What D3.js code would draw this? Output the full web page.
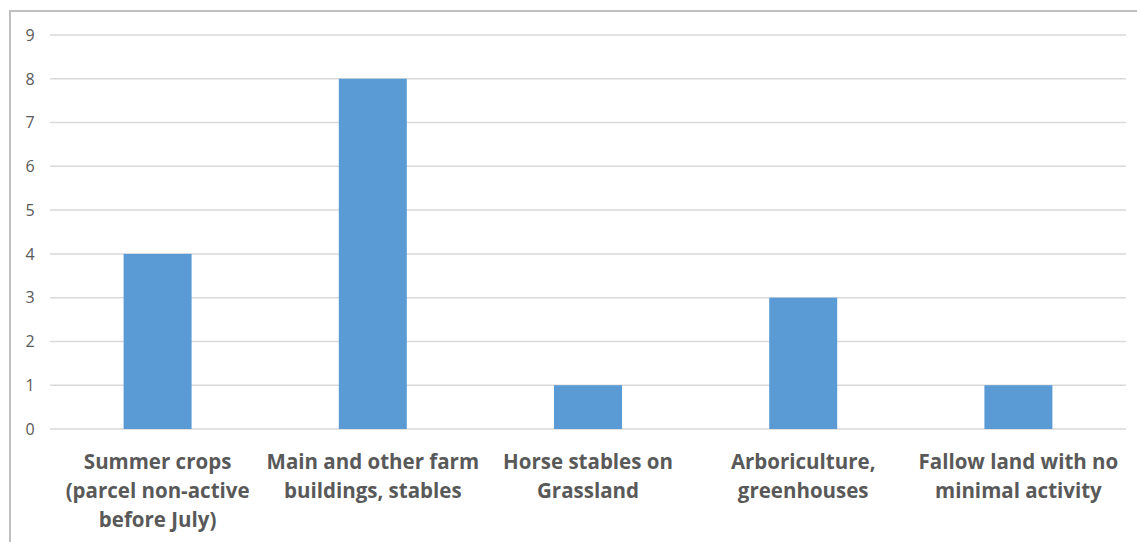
<!DOCTYPE html>
<html><head><meta charset="utf-8">
<script src="https://cdn.jsdelivr.net/npm/d3@7"></script>
<style>body{margin:0;background:#fff;}svg{display:block;}</style>
</head><body>
<svg id="c" width="1137" height="542"></svg>
<script>
const categories = [
  ["Summer crops", "(parcel non-active", "before July)"],
  ["Main and other farm", "buildings, stables"],
  ["Horse stables on", "Grassland"],
  ["Arboriculture,", "greenhouses"],
  ["Fallow land with no", "minimal activity"]
];
const values = [4, 8, 1, 3, 1];
const yTicks = [0,1,2,3,4,5,6,7,8,9];

const svg = d3.select("#c");
svg.append("rect").attr("x",10).attr("y",11).attr("width",1140).attr("height",560)
  .attr("fill","#fff").attr("stroke","#bfbfbf").attr("stroke-width",2);

const x = d3.scaleBand().domain(d3.range(categories.length)).range([50,1126])
  .paddingInner(0.684).paddingOuter(0.342);
const y = d3.scaleLinear().domain([0,9]).range([429,35]);

svg.append("g").selectAll("line").data(yTicks).join("line")
  .attr("x1",50).attr("x2",1126).attr("y1",d=>y(d)).attr("y2",d=>y(d))
  .attr("stroke","#d9d9d9").attr("stroke-width",1.5);

svg.append("g").selectAll("text").data(yTicks).join("text")
  .attr("x",30).attr("y",d=>y(d)).attr("dy","0.36em").attr("text-anchor","middle")
  .attr("font-family","'Open Sans', sans-serif").attr("font-size",16).attr("fill","#595959")
  .text(d=>d);

svg.append("g").selectAll("rect").data(values).join("rect")
  .attr("x",(d,i)=>x(i)).attr("width",x.bandwidth())
  .attr("y",d=>y(d)).attr("height",d=>y(0)-y(d)).attr("fill","#5b9bd5");

const lab = svg.append("g").selectAll("text").data(categories).join("text")
  .attr("text-anchor","middle").attr("font-family","'Open Sans', sans-serif")
  .attr("font-weight","bold").attr("font-size",20.5).attr("fill","#595959");
lab.each(function(lines,i){
  const t = d3.select(this);
  lines.forEach((l,j)=>{
    t.append("tspan").attr("x", x(i)+x.bandwidth()/2).attr("y", 462 + j*29).attr("dy","0.35em").text(l);
  });
});
</script>
</body></html>
